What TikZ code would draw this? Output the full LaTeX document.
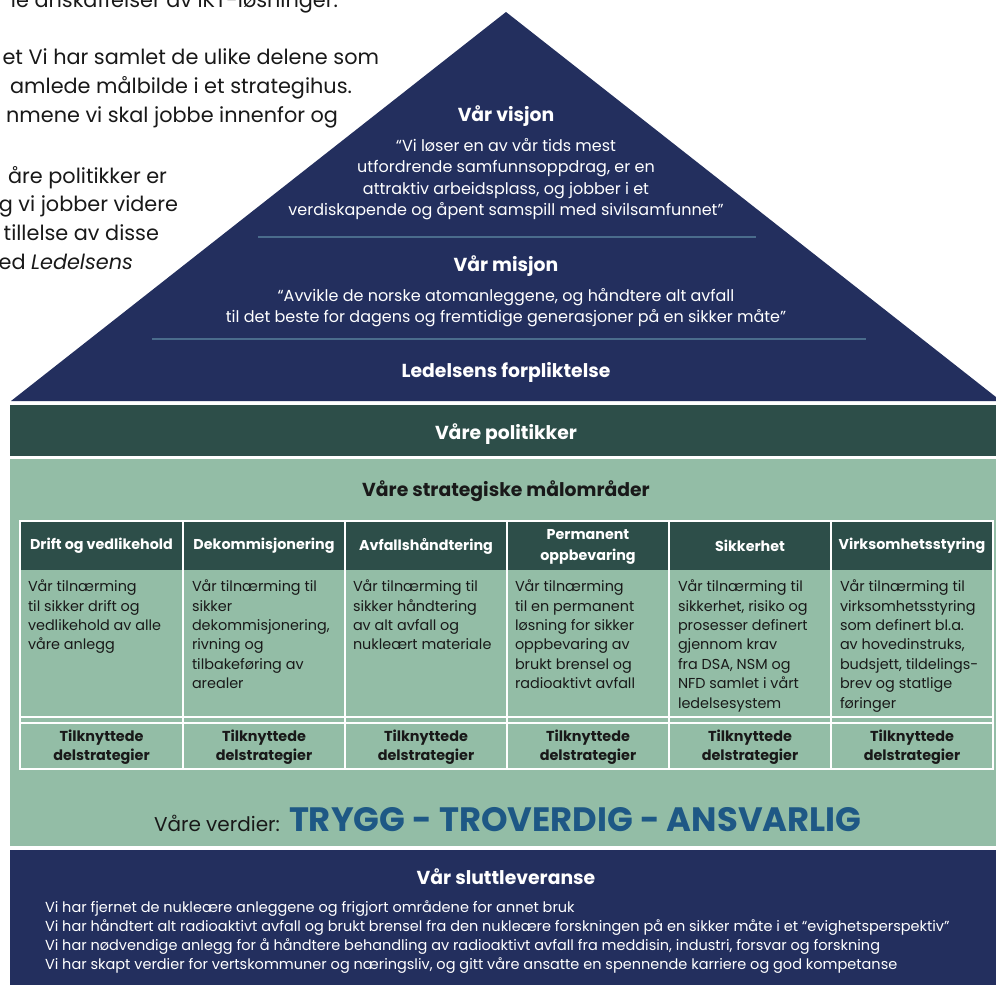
\documentclass[tikz,border=0pt]{standalone}
\usepackage{fontspec}
\setmainfont{Poppins}
\definecolor{navy}{RGB}{35,47,94}
\definecolor{dgreen}{RGB}{45,78,73}
\definecolor{lgreen}{RGB}{147,189,166}
\definecolor{sepc}{RGB}{74,108,140}
\definecolor{tblue}{RGB}{30,88,133}
\definecolor{ink}{RGB}{25,25,25}
\begin{document}
\begin{tikzpicture}[x=1pt,y=-1pt,
  every node/.style={inner sep=0pt,outer sep=0pt},
  pagetxt/.style={anchor=base east,font=\fontsize{20.8}{29}\selectfont,text=ink},
  title/.style={anchor=base,font=\bfseries\fontsize{18.8}{22}\selectfont,text=white},
  quote/.style={anchor=north,align=center,font=\fontsize{16}{21.3}\selectfont,text=white},
  hdr/.style={anchor=center,align=center,font=\bfseries\fontsize{14.3}{21}\selectfont,text=white},
  cell/.style={anchor=north west,align=left,font=\fontsize{14.4}{19.4}\selectfont,text=ink},
  sub/.style={anchor=north,align=center,font=\bfseries\fontsize{14.4}{19}\selectfont,text=ink},
  grid/.style={white,line width=1.2pt},
  sepline/.style={sepc,line width=1.3pt}]
\useasboundingbox (0,0) rectangle (996,985);
\begin{scope}
\clip (0,0) rectangle (996,985);
\fill[white] (0,0) rectangle (996,985);
% page text behind the house
\node[pagetxt] (p1) at (338,7) {le anskaffelser av IKT-løsninger.};
\node[pagetxt] (p2) at (379,64) {et Vi har samlet de ulike delene som};
\node[pagetxt] (p3) at (352,93) {amlede målbilde i et strategihus.};
\node[pagetxt] (p4) at (338,122) {nmene vi skal jobbe innenfor og};
\node[pagetxt] (p5) at (167,183) {åre politikker er};
\node[pagetxt] (p6) at (178,211) {g vi jobber videre};
\node[pagetxt] (p7) at (159,240) {tillelse av disse};
\node[pagetxt] (p8) at (133,269) {ed \textit{Ledelsens}};
% roof
\fill[navy] (11,401) -- (506,12) -- (1001,401) -- cycle;
\draw[sepline] (258,237) -- (756,237);
\draw[sepline] (152,339) -- (866,339);
\node[title] (visjon) at (506,121) {Vår visjon};
\node[quote] (vq) at (506,138.5) {“Vi løser en av vår tids mest\\utfordrende samfunnsoppdrag, er en\\attraktiv arbeidsplass, og jobber i et\\verdiskapende og åpent samspill med sivilsamfunnet”};
\node[title] (misjon) at (506,271) {Vår misjon};
\node[quote] (mq) at (506,288.5) {“Avvikle de norske atomanleggene, og håndtere alt avfall\\til det beste for dagens og fremtidige generasjoner på en sikker måte”};
\node[title] (led) at (506,377) {Ledelsens forpliktelse};
% bands
\fill[dgreen] (10,405) rectangle (996,456);
\node[title] (pol) at (506,439) {Våre politikker};
\fill[lgreen] (10,459) rectangle (996,846);
\node[title,text=ink] (strat) at (506,496) {Våre strategiske målområder};
% table
\fill[dgreen] (20,521) rectangle (993,570);
\draw[grid] (20,521) rectangle (993,769);
\foreach \x in {183,345,507,669,831} \draw[grid] (\x,521) -- (\x,769);
\draw[grid] (20,717) -- (993,717);
\draw[grid] (20,723) -- (993,723);
\node[hdr] (h1) at (101.5,546) {Drift og vedlikehold};
\node[hdr] (h2) at (264,546) {Dekommisjonering};
\node[hdr] (h3) at (426,546) {Avfallshåndtering};
\node[hdr] (h4) at (588,546.5) {Permanent\\oppbevaring};
\node[hdr] (h5) at (750,546) {Sikkerhet};
\node[hdr] (h6) at (912,546) {Virksomhetsstyring};
\node[cell] (c1) at (28,580) {Vår tilnærming\\til sikker drift og\\vedlikehold av alle\\våre anlegg};
\node[cell] (c2) at (192,580) {Vår tilnærming til\\sikker\\dekommisjonering,\\rivning og\\tilbakeføring av\\arealer};
\node[cell] (c3) at (353,580) {Vår tilnærming til\\sikker håndtering\\av alt avfall og\\nukleært materiale};
\node[cell] (c4) at (515,580) {Vår tilnærming\\til en permanent\\løsning for sikker\\oppbevaring av\\brukt brensel og\\radioaktivt avfall};
\node[cell] (c5) at (678,580) {Vår tilnærming til\\sikkerhet, risiko og\\prosesser definert\\gjennom krav\\fra DSA, NSM og\\NFD samlet i vårt\\ledelsesystem};
\node[cell] (c6) at (840,580) {Vår tilnærming til\\virksomhetsstyring\\som definert bl.a.\\av hovedinstruks,\\budsjett, tildelings-\\brev og statlige\\føringer};
\foreach \n/\x in {1/101.5,2/264,3/426,4/588,5/750,6/912}
  \node[sub] (s\n) at (\x,729.5) {Tilknyttede\\delstrategier};
% values
\node[anchor=base west,font=\fontsize{20}{24}\selectfont,text=ink] (verd) at (154,831) {Våre verdier:};
\node[anchor=base west,font=\bfseries\fontsize{33.8}{38}\selectfont,text=tblue] (tryggn) at (289,831) {TRYGG - TROVERDIG - ANSVARLIG};
% delivery
\fill[navy] (10,850) rectangle (996,985);
\node[title] (slutt) at (506,884) {Vår sluttleveranse};
\node[anchor=north west,align=left,font=\fontsize{14.5}{18.9}\selectfont,text=white] (lev) at (45,901) {Vi har fjernet de nukleære anleggene og frigjort områdene for annet bruk\\Vi har håndtert alt radioaktivt avfall og brukt brensel fra den nukleære forskningen på en sikker måte i et “evighetsperspektiv”\\Vi har nødvendige anlegg for å håndtere behandling av radioaktivt avfall fra meddisin, industri, forsvar og forskning\\Vi har skapt verdier for vertskommuner og næringsliv, og gitt våre ansatte en spennende karriere og god kompetanse};
\end{scope}
\end{tikzpicture}
\end{document}
